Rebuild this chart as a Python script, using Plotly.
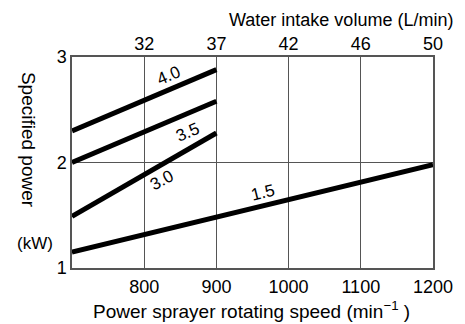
import plotly.graph_objects as go

# Data
speed_ticks = [800, 900, 1000, 1100, 1200]
water_ticks = ["32", "37", "42", "46", "50"]
power_ticks = [1, 2, 3]

series_names = ["4.0", "3.5", "3.0", "1.5"]
series_x = [[700, 900], [700, 900], [700, 900], [700, 1200]]
series_y = [[2.30, 2.88], [2.00, 2.58], [1.49, 2.28], [1.15, 1.98]]

# label positions (data coords) and angles
label_pos = [(834, 2.82, -23), (860, 2.28, -23), (824, 1.83, -28), (965, 1.72, -14)]

FONT = "Liberation Sans, Arial, sans-serif"
GRID = "#555555"

fig = go.Figure()
for name, xs, ys in zip(series_names, series_x, series_y):
    fig.add_trace(go.Scatter(x=xs, y=ys, mode="lines",
                             line=dict(color="black", width=5),
                             showlegend=False, hoverinfo="skip"))
# invisible trace for top axis
fig.add_trace(go.Scatter(x=[700, 1200], y=[1, 1], xaxis="x2", mode="lines",
                         line=dict(width=0), showlegend=False, hoverinfo="skip"))

for name, (lx, ly, ang) in zip(series_names, label_pos):
    fig.add_annotation(x=lx, y=ly, text=name, showarrow=False, textangle=ang,
                       font=dict(size=17, color="black", family=FONT))

fig.update_layout(
    width=465, height=324,
    margin=dict(l=72, r=27, t=57, b=56),
    paper_bgcolor="white", plot_bgcolor="white",
    font=dict(family=FONT, color="black", size=18),
    xaxis=dict(range=[700, 1200], tickvals=speed_ticks,
               showgrid=True, gridcolor=GRID, gridwidth=1.3,
               showline=True, linecolor=GRID, linewidth=1.5, mirror=True,
               ticks="", zeroline=False, tickfont=dict(size=18),
               ticklabelstandoff=2),
    xaxis2=dict(range=[700, 1200], tickvals=speed_ticks, ticktext=water_ticks,
                overlaying="x", side="top", showgrid=False, showline=False,
                ticks="", zeroline=False, tickfont=dict(size=18),
                ticklabelstandoff=2),
    yaxis=dict(range=[1, 3], tickvals=power_ticks,
               showgrid=True, gridcolor=GRID, gridwidth=1.3,
               showline=True, linecolor=GRID, linewidth=1.5, mirror=True,
               ticks="", zeroline=False, tickfont=dict(size=18)),
)

fig.add_annotation(xref="paper", yref="paper", x=1.0, y=1.0, yshift=37,
                   xanchor="right", yanchor="middle", xshift=22,
                   text="Water intake volume (L/min)", showarrow=False,
                   font=dict(size=18, family=FONT))
fig.add_annotation(xref="paper", yref="paper", x=0.497, y=0, yshift=-42,
                   xanchor="center", yanchor="middle",
                   text="Power sprayer rotating speed (min<sup>−1</sup> )", showarrow=False,
                   font=dict(size=19, family=FONT))
fig.add_annotation(xref="paper", yref="paper", x=0, y=0.607, xshift=-44,
                   xanchor="center", yanchor="middle", textangle=90,
                   text="Specified power", showarrow=False,
                   font=dict(size=19, family=FONT))
fig.add_annotation(xref="paper", yref="paper", x=0, y=0.118, xshift=-37,
                   xanchor="center", yanchor="middle",
                   text="(kW)", showarrow=False,
                   font=dict(size=17, family=FONT))

fig.write_html("out.html")
